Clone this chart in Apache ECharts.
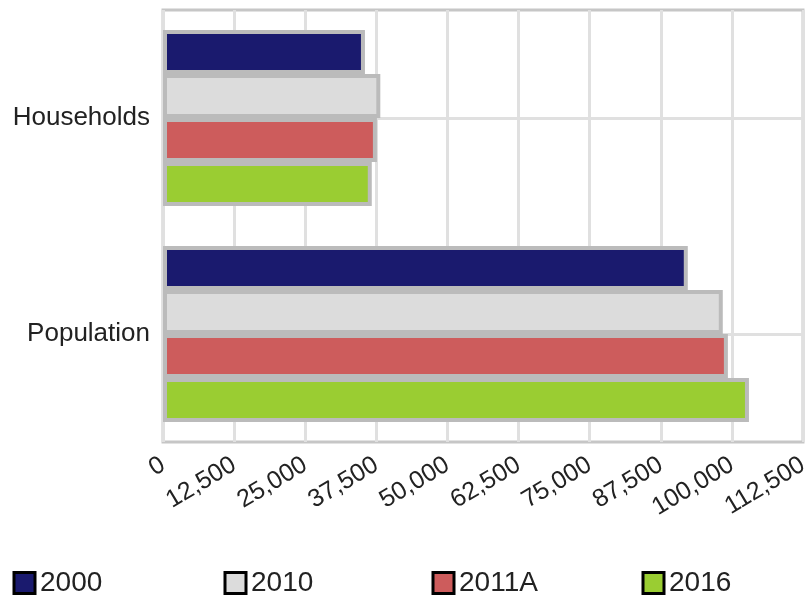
<!DOCTYPE html>
<html>
<head>
<meta charset="utf-8">
<script src="https://cdn.jsdelivr.net/npm/echarts@6/dist/echarts.min.js"></script>
<style>
  html, body { margin: 0; padding: 0; background: #fff; }
  #chart { width: 812px; height: 597px; }
</style>
</head>
<body>
<div id="chart"></div>
<script>
// 数据
const categories = ['Households', 'Population'];
const seriesNames = ['2000', '2010', '2011A', '2016'];
const seriesColors = ['#1a1a6e', '#dcdcdc', '#cd5c5c', '#9acd32'];
const values2000 = [35500, 92250];
const values2010 = [38200, 98400];
const values2011A = [37600, 99300];
const values2016 = [36700, 103000];
const seriesValues = [values2000, values2010, values2011A, values2016];
const legendLefts = [12.5, 223.5, 431.5, 641.5];

const chart = echarts.init(document.getElementById('chart'));
const font = "'Liberation Sans', Arial, sans-serif";

const option = {
    animation: false,
    textStyle: { fontFamily: font },
    grid: {
        left: 163, right: 8, top: 10, bottom: 155,
        show: true,
        borderColor: '#c6c6c6',
        borderWidth: 3,
        containLabel: false
    },
    legend: seriesNames.map((name, i) => ({
        data: [name],
        left: legendLefts[i],
        top: 569,
        padding: 0,
        icon: 'rect',
        itemWidth: 21,
        itemHeight: 21,
        itemStyle: { borderColor: '#000', borderWidth: 3 },
        textStyle: { fontSize: 28, color: '#222', fontFamily: font, padding: [3, 0, 0, 0] },
        selectedMode: false
    })),
    xAxis: {
        type: 'value',
        min: 0,
        max: 112500,
        interval: 12500,
        axisLine: { show: false },
        axisTick: { show: false },
        splitLine: { lineStyle: { color: '#e0e0e0', width: 3 } },
        axisLabel: {
            rotate: 31,
            margin: 21,
            fontSize: 25,
            color: '#222',
            fontFamily: font,
            formatter: v => v.toLocaleString('en-US')
        }
    },
    yAxis: {
        type: 'category',
        inverse: true,
        data: categories,
        axisLine: { show: false },
        axisTick: { show: false },
        splitLine: { show: true, alignWithLabel: true, lineStyle: { color: '#e0e0e0', width: 3 } },
        axisLabel: { fontSize: 26, color: '#222', margin: 13, fontFamily: font }
    },
    series: seriesNames.map((name, i) => ({
        name: name,
        type: 'bar',
        data: seriesValues[i],
        barWidth: 44,
        barGap: '0%',
        itemStyle: { color: seriesColors[i], borderColor: '#bbbbbb', borderWidth: 4 }
    }))
};

chart.setOption(option);

window.addEventListener('resize', () => {
    chart.resize();
});
</script>
</body>
</html>
